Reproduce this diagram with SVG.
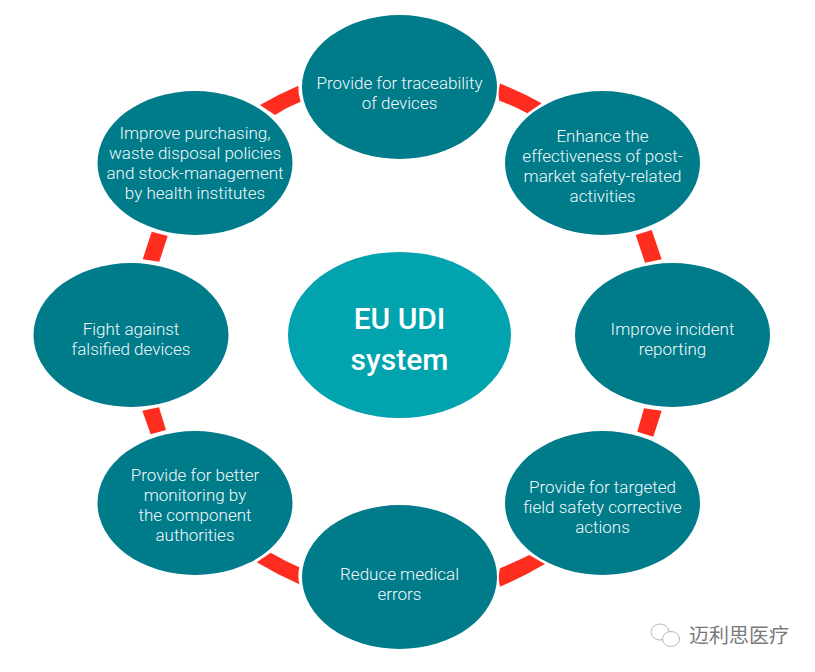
<svg xmlns="http://www.w3.org/2000/svg" width="815" height="672" viewBox="0 0 815 672">
<style>
.n{fill:#007b8a}
.c{fill:#00a3ae}
.l{fill:#ff2d20}
text{font-family:Roboto,"Open Sans","Liberation Sans",sans-serif;fill:#f2fafa;font-size:17px;font-weight:300;text-anchor:middle}
.big{font-size:30px;font-weight:500;fill:#fff}
.wm{font-family:"Noto Sans CJK SC",sans-serif;font-size:20px;font-weight:400;fill:#7a7a7a;text-anchor:start}
.ic{fill:#fff;stroke:#b8b8b8;stroke-width:1}
</style>
<rect width="815" height="672" fill="#fff"/>
<g id="connectors">
<path class="l" d="M500,83.5Q521,92 541.7,103.3L527.3,113.3Q514,106 499.3,100.7Q497.5,92 500,83.5Z"/>
<polygon class="l" points="635.7,235 651.7,230 661.7,259.3 645,262.7"/>
<polygon class="l" points="644,408.3 661.7,410.7 653.3,436.7 637.3,431.7"/>
<path class="l" d="M529.3,555L545,564Q523,577 500,586.7Q497.5,578 500,568.3Q515,562 529.3,555Z"/>
<path class="l" d="M270.7,552.7Q285,561 299.3,567.3Q297.5,576 299.3,584.3Q278,575 256.7,562.3Z"/>
<polygon class="l" points="142.3,410.7 159,407.3 166,430 150.7,434.3"/>
<polygon class="l" points="151.7,231.7 167.7,236 159.3,261.7 142.7,259.3"/>
<path class="l" d="M298.3,85.7Q279,94 260,105L275,115Q287,107 300.7,101.7Q298,94 298.3,85.7Z"/>
</g>
<g id="center"><ellipse class="c" cx="399.5" cy="335" rx="111.5" ry="83"/><text class="big" x="399.5" y="329">EU UDI</text><text class="big" x="399.5" y="370">system</text></g>
<g id="n1"><ellipse class="n" cx="399.5" cy="87" rx="97.5" ry="72"/><text x="399.5" y="89">Provide for traceability</text><text x="399.5" y="109">of devices</text></g>
<g id="n2"><ellipse class="n" cx="602.5" cy="163" rx="97.5" ry="72"/><text x="602.5" y="142">Enhance the</text><text x="602.5" y="162">effectiveness of post-</text><text x="602.5" y="182">market safety-related</text><text x="602.5" y="202">activities</text></g>
<g id="n3"><ellipse class="n" cx="672.5" cy="335" rx="97.5" ry="72"/><text x="672.5" y="335">Improve incident</text><text x="672.5" y="355">reporting</text></g>
<g id="n4"><ellipse class="n" cx="602.5" cy="503" rx="97.5" ry="72"/><text x="602.5" y="493">Provide for targeted</text><text x="602.5" y="513">field safety corrective</text><text x="602.5" y="533">actions</text></g>
<g id="n5"><ellipse class="n" cx="399.5" cy="577" rx="97.5" ry="72"/><text x="399.5" y="580">Reduce medical</text><text x="399.5" y="600">errors</text></g>
<g id="n6"><ellipse class="n" cx="195" cy="503" rx="97.5" ry="72"/><text x="195" y="481">Provide for better</text><text x="195" y="501">monitoring by</text><text x="195" y="521">the component</text><text x="195" y="541">authorities</text></g>
<g id="n7"><ellipse class="n" cx="131" cy="335" rx="97.5" ry="72"/><text x="131" y="335">Fight against</text><text x="131" y="355">falsified devices</text></g>
<g id="n8"><ellipse class="n" cx="195" cy="163" rx="97.5" ry="72"/><text x="195" y="139">Improve purchasing,</text><text x="195" y="159">waste disposal policies</text><text x="195" y="179">and stock-management</text><text x="195" y="199">by health institutes</text></g>
<g id="watermark">
<ellipse class="ic" cx="660" cy="632" rx="9" ry="8"/>
<ellipse class="ic" cx="671" cy="639" rx="8.5" ry="7.5"/>
<text class="wm" x="689" y="643">迈利思医疗</text>
</g>
</svg>
